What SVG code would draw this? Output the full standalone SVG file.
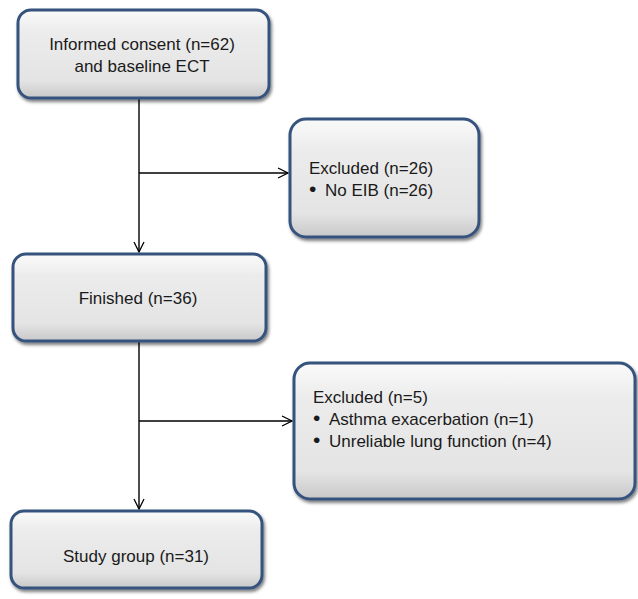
<svg xmlns="http://www.w3.org/2000/svg" width="638" height="599" viewBox="0 0 638 599">
<defs>
<linearGradient id="g" x1="0" y1="0" x2="0" y2="1">
<stop offset="0" stop-color="#fafafa"/>
<stop offset="0.25" stop-color="#ececec"/>
<stop offset="0.8" stop-color="#e4e4e4"/>
<stop offset="1" stop-color="#c8c8c8"/>
</linearGradient>
<filter id="sh" x="-10%" y="-10%" width="130%" height="140%">
<feDropShadow dx="1.5" dy="2.5" stdDeviation="1.8" flood-color="#000" flood-opacity="0.5"/>
</filter>
<marker id="arr" viewBox="0 0 12 12" refX="11" refY="6" markerWidth="12" markerHeight="12" markerUnits="userSpaceOnUse" orient="auto">
<path d="M1,1 L11,6 L1,11" fill="none" stroke="#000" stroke-width="1.3"/>
</marker>
</defs>
<style>
.box{fill:url(#g);stroke:#34527d;stroke-width:3;filter:url(#sh)}
.t{font-family:"Liberation Sans",Arial,sans-serif;font-size:17px;fill:#1a1a1a}
.c{text-anchor:middle}
.b{font-size:21px}
.ln{fill:none;stroke:#000;stroke-width:1.4}
</style>
<g id="connectors">
<line class="ln" x1="139" y1="99" x2="139" y2="252" marker-end="url(#arr)"/>
<line class="ln" x1="139" y1="173" x2="288" y2="173" marker-end="url(#arr)"/>
<line class="ln" x1="139" y1="342" x2="139" y2="509" marker-end="url(#arr)"/>
<line class="ln" x1="139" y1="421" x2="292" y2="421" marker-end="url(#arr)"/>
</g>
<g id="consent">
<rect class="box" x="18" y="10" width="251" height="88" rx="13"/>
<text class="t c" x="142" y="50">Informed consent (n=62)</text>
<text class="t c" x="142" y="72">and baseline ECT</text>
</g>
<g id="excluded1">
<rect class="box" x="290" y="119" width="189" height="118" rx="16"/>
<text class="t" x="309" y="174">Excluded (n=26)</text>
<text class="t" x="309" y="196"><tspan class="b">•</tspan><tspan x="325">No EIB (n=26)</tspan></text>
</g>
<g id="finished">
<rect class="box" x="13" y="254" width="253" height="87" rx="13"/>
<text class="t c" x="138" y="304">Finished (n=36)</text>
</g>
<g id="excluded2">
<rect class="box" x="294" y="363" width="341" height="136" rx="16"/>
<text class="t" x="313" y="403">Excluded (n=5)</text>
<text class="t" x="313" y="425"><tspan class="b">•</tspan><tspan x="329">Asthma exacerbation (n=1)</tspan></text>
<text class="t" x="313" y="447"><tspan class="b">•</tspan><tspan x="329">Unreliable lung function (n=4)</tspan></text>
</g>
<g id="study">
<rect class="box" x="11" y="511" width="251" height="77" rx="13"/>
<text class="t c" x="136" y="562">Study group (n=31)</text>
</g>
</svg>
